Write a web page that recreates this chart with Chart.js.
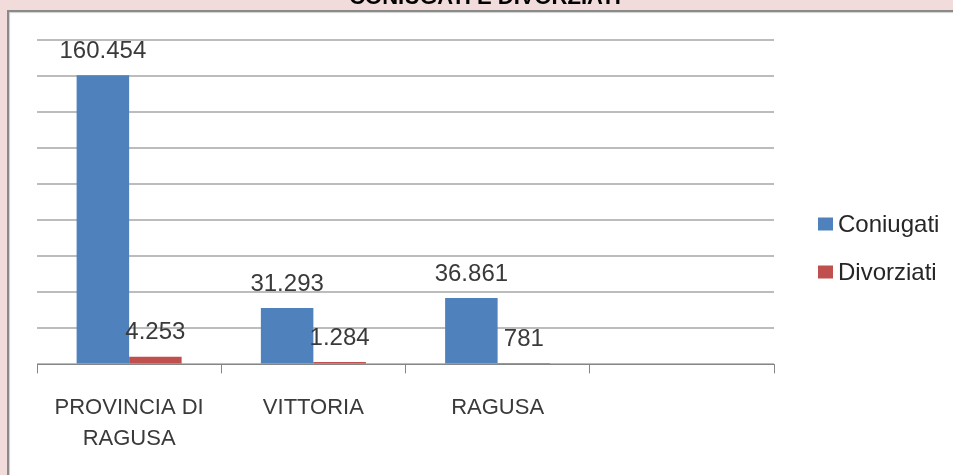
<!DOCTYPE html>
<html>
<head>
<meta charset="utf-8">
<script src="https://cdn.jsdelivr.net/npm/chart.js@4/dist/chart.umd.min.js"></script>
<style>
  html, body { margin: 0; padding: 0; }
  body { width: 953px; height: 475px; background: #f2dcdb; position: relative; overflow: hidden; font-family: "Liberation Sans", Arial, sans-serif; }
  #title { position: absolute; left: 0; width: 970px; top: -14px; text-align: center; font: bold 22px/1 "Liberation Sans", Arial, sans-serif; color: #000; z-index: 3; }
  #frame { position: absolute; left: 7px; top: 10px; width: 960px; height: 480px; background: #fff; border-left: 2px solid #8a8a8a; border-top: 2px solid #8a8a8a; box-shadow: 1px 1px 1px #d0d0d0 inset; }
  #chart { position: absolute; left: 0; top: 0; z-index: 2; }
</style>
</head>
<body>
<div id="title">CONIUGATI E DIVORZIATI</div>
<div id="frame"></div>
<canvas id="chart" width="953" height="475"></canvas>
<script>
const categories = [["PROVINCIA DI", "RAGUSA"], "VITTORIA", "RAGUSA", ""];
const coniugati = [160454, 31293, 36861, null];
const divorziati = [4253, 1284, 781, null];
const yMax = 180000;
const yStep = 20000;

const fmt = (v) => v.toLocaleString("it-IT");

// value labels above each bar
const barLabels = {
  id: "barLabels",
  afterDatasetsDraw(chart) {
    const { ctx } = chart;
    ctx.save();
    ctx.font = '24px "Liberation Sans", Arial, sans-serif';
    ctx.fillStyle = "#3a3a3a";
    ctx.textAlign = "center";
    ctx.textBaseline = "middle";
    chart.data.datasets.forEach((ds, i) => {
      chart.getDatasetMeta(i).data.forEach((bar, j) => {
        const v = ds.data[j];
        if (v == null) return;
        ctx.fillText(fmt(v), bar.x, bar.y - 24);
      });
    });
    ctx.restore();
  },
};

// legend on the right, Excel style
const sideLegend = {
  id: "sideLegend",
  afterDraw(chart) {
    const { ctx } = chart;
    ctx.save();
    ctx.font = '24px "Liberation Sans", Arial, sans-serif';
    ctx.textBaseline = "middle";
    chart.data.datasets.forEach((ds, i) => {
      const cy = 224 + i * 48;
      ctx.fillStyle = ds.backgroundColor;
      ctx.fillRect(818, cy - 6.5, 15, 13);
      ctx.fillStyle = "#262626";
      ctx.fillText(ds.label, 838, cy + 1);
    });
    ctx.restore();
  },
};

new Chart(document.getElementById("chart"), {
  type: "bar",
  data: {
    labels: categories,
    datasets: [
      { label: "Coniugati", data: coniugati, backgroundColor: "#4f81bd" },
      { label: "Divorziati", data: divorziati, backgroundColor: "#c0504d" },
    ],
  },
  options: {
    responsive: false,
    animation: false,
    categoryPercentage: 0.57,
    barPercentage: 1,
    layout: { padding: { left: 37, right: 179, top: 40, bottom: 2 } },
    plugins: { legend: { display: false }, tooltip: { enabled: false } },
    scales: {
      x: {
        grid: { display: true, drawOnChartArea: false, drawTicks: true, tickLength: 9, color: "#868686" },
        border: { display: true, color: "#868686", width: 1 },
        ticks: {
          color: "#3a3a3a",
          padding: 19,
          maxRotation: 0,
          font: { family: '"Liberation Sans", Arial, sans-serif', size: 22, lineHeight: 1.4 },
        },
      },
      y: {
        min: 0,
        max: yMax,
        ticks: { display: false, stepSize: yStep },
        grid: { color: "#bcbcbc", lineWidth: 2, drawTicks: false },
        border: { display: false },
      },
    },
  },
  plugins: [barLabels, sideLegend],
});
</script>
</body>
</html>
